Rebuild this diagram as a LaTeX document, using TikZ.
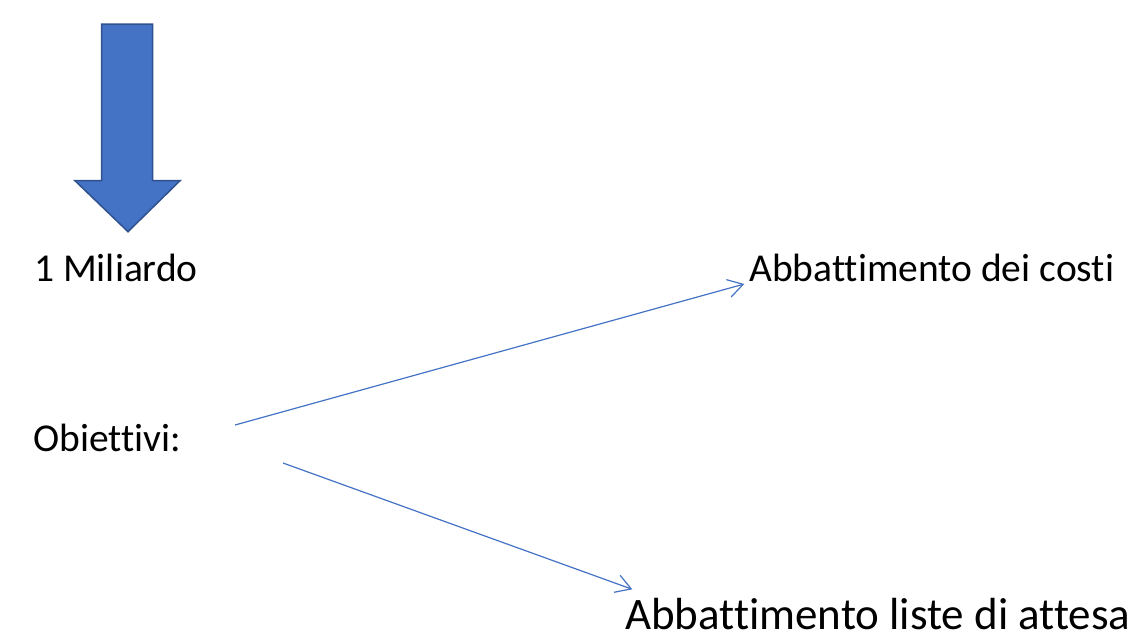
\documentclass[tikz,border=0pt]{standalone}
\usepackage{fontspec}
\setmainfont{Carlito}[Ligatures={NoCommon,NoRare}]
\usetikzlibrary{arrows.meta}
\definecolor{accblue}{HTML}{4472C4}
\definecolor{accdark}{HTML}{2F528F}
\begin{document}
\begin{tikzpicture}[x=1pt,y=-1pt,
  lbl/.style={inner sep=0pt,anchor=base west,font=\fontsize{39.5}{47}\selectfont},
  lblbig/.style={inner sep=0pt,anchor=base west,font=\fontsize{45}{54}\selectfont},
  conn/.style={draw=accblue,line width=1.2pt,-{Straight Barb[length=15pt,width=18pt,line width=1.2pt]}},
  bigarrow/.style={fill=accblue,draw=accdark,line width=1.5pt,line join=miter}]
\useasboundingbox (0,0) rectangle (1143,635);
\draw[bigarrow] (101.7,24) -- (152.7,24) -- (152.7,180.7) -- (180,180.7) -- (128,231.7) -- (75,180.7) -- (101.7,180.7) -- cycle;
\node[lbl] (mil) at (34,281.7) {1 Miliardo};
\node[lbl] (obi) at (33,451.7) {Obiettivi:};
\node[lbl] (costi) at (749,281.7) {Abbattimento dei costi};
\node[lblbig] (liste) at (625,629) {Abbattimento liste di attesa};
\coordinate (s1) at (235,425);
\coordinate (e1) at (744.3,284);
\coordinate (s2) at (283,463);
\coordinate (e2) at (632.3,589.3);
\draw[conn] (s1) -- (e1);
\draw[conn] (s2) -- (e2);
\end{tikzpicture}
\end{document}
